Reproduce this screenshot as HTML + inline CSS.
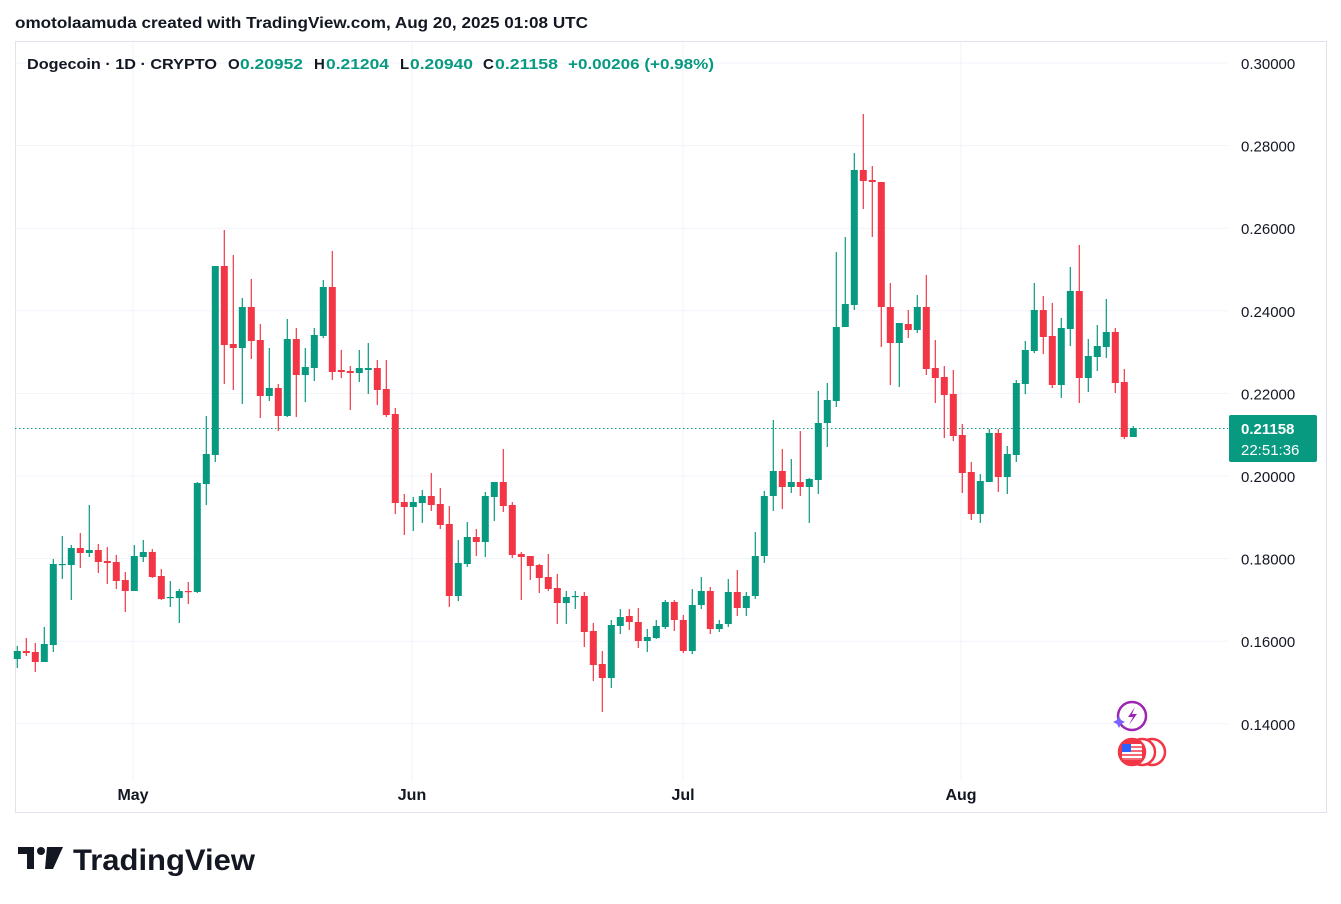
<!DOCTYPE html>
<html><head><meta charset="utf-8"><style>
html,body{margin:0;padding:0;background:#fff;width:1341px;height:904px;overflow:hidden;font-family:"Liberation Sans",sans-serif}
</style></head><body>
<svg id="s" width="1341" height="904" xmlns="http://www.w3.org/2000/svg" style="position:absolute;left:0;top:0">
<text x="15" y="28" font-size="16" font-weight="bold" fill="#131722" textLength="573" lengthAdjust="spacingAndGlyphs">omotolaamuda created with TradingView.com, Aug 20, 2025 01:08 UTC</text>
<rect x="15.5" y="41.5" width="1311" height="771" fill="none" stroke="#e0e3eb"/>
<g id="grid" stroke="#f0f3fa" stroke-width="1"></g>
<line x1="15" y1="428.5" x2="1228" y2="428.5" stroke="#089981" stroke-dasharray="1.5,2.5"/>
<g id="c"></g>
<g font-size="15" fill="#131722" id="pl"></g>
<g font-size="15" font-weight="bold">
<text x="27" y="69" fill="#131722" textLength="190" lengthAdjust="spacingAndGlyphs">Dogecoin · 1D · CRYPTO</text>
<text x="228" y="69" fill="#131722">O</text><text x="240" y="69" fill="#089981" textLength="63" lengthAdjust="spacingAndGlyphs">0.20952</text>
<text x="314" y="69" fill="#131722">H</text><text x="326" y="69" fill="#089981" textLength="63" lengthAdjust="spacingAndGlyphs">0.21204</text>
<text x="400" y="69" fill="#131722">L</text><text x="410" y="69" fill="#089981" textLength="63" lengthAdjust="spacingAndGlyphs">0.20940</text>
<text x="483" y="69" fill="#131722">C</text><text x="495" y="69" fill="#089981" textLength="63" lengthAdjust="spacingAndGlyphs">0.21158</text>
<text x="568" y="69" fill="#089981" textLength="146" lengthAdjust="spacingAndGlyphs">+0.00206 (+0.98%)</text>
</g>
<rect x="1229" y="415" width="88" height="47" rx="2" fill="#089981"/>
<text x="1241" y="434" font-size="15" fill="#fff" font-weight="bold">0.21158</text>
<text x="1241" y="455" font-size="15" fill="#fff">22:51:36</text>
<g font-size="16" font-weight="bold" fill="#131722" text-anchor="middle"><text x="133" y="800">May</text><text x="412" y="800">Jun</text><text x="683" y="800">Jul</text><text x="961" y="800">Aug</text></g>
<circle cx="1132" cy="716" r="14" fill="#fff" stroke="#9c27b0" stroke-width="2.5"/>
<path d="M1135 707 L1128 717 L1133 717 L1129 725 L1137 714 L1132 714 Z" fill="#9c27b0"/>
<path d="M1117 720 l2 -4 l2 4 l4 2 l-4 2 l-2 4 l-2 -4 l-4 -2z" fill="#7b61ff"/>
<circle cx="1152" cy="752" r="13" fill="#fff" stroke="#f23645" stroke-width="2.5"/>
<circle cx="1142" cy="752" r="13" fill="#fff" stroke="#f23645" stroke-width="2.5"/>
<circle cx="1132" cy="752" r="13" fill="#f23645" stroke="#f23645" stroke-width="2.5"/>
<rect x="1122" y="744" width="20" height="16" rx="2" fill="#fff"/>
<rect x="1122" y="744" width="9" height="8" fill="#2962ff"/>
<g stroke="#f23645" stroke-width="1.5"><line x1="1131" y1="747" x2="1142" y2="747"/><line x1="1131" y1="751" x2="1142" y2="751"/><line x1="1122" y1="755" x2="1142" y2="755"/><line x1="1122" y1="759" x2="1142" y2="759"/></g>
<path d="M18 847 h16 v22 h-7 v-15 h-9z" fill="#131722"/>
<circle cx="41" cy="851" r="4" fill="#131722"/>
<path d="M47 847 h16 l-10 22 h-8 z" fill="#131722"/>
<text x="73" y="870" font-size="30" font-weight="bold" fill="#131722" textLength="182" lengthAdjust="spacingAndGlyphs">TradingView</text>
</svg>
<script>
const d=[
['g',651,659,646,668],['r',651,653,638,656],['r',652,662,643,672],['g',644,662,627,662],['g',564,645,559,652],
['g',564,565,536,579],['g',548,565,545,600],['r',548,553,533,568],['g',550,553,505,557],['r',550,562,544,573],
['r',561,563,547,584],['r',562,581,555,589],['r',580,591,572,612],['g',556,591,545,591],['g',552,557,540,562],
['r',552,577,549,578],['r',576,599,569,600],['g',597,598,581,607],['g',591,598,589,623],['r',591,592,582,604],
['g',483,592,482,593],['g',454,484,416,505],['g',266,455,266,462],['r',266,345,230,384],['r',344,348,255,390],
['g',307,348,298,404],['r',307,341,279,359],['r',340,396,324,418],['g',388,396,348,401],['r',388,416,384,431],
['g',339,416,319,417],['r',339,375,328,417],['g',367,375,348,402],['g',335,368,328,381],['g',287,336,280,338],
['r',287,372,251,380],['r',370,372,350,378],['r',371,373,366,410],['g',368,373,350,382],['g',368,370,343,394],
['r',368,390,360,405],['r',389,415,360,417],['r',414,503,408,514],['r',502,507,494,535],['g',502,507,497,531],
['g',496,503,490,523],['r',496,505,473,511],['r',504,525,488,529],['r',524,596,506,607],['g',563,596,540,601],
['g',537,564,522,567],['r',537,542,529,556],['g',496,542,492,557],['g',482,497,482,521],['r',482,506,449,512],
['r',505,555,502,558],['r',554,557,552,600],['r',556,566,556,580],['r',565,578,564,593],['r',577,589,554,591],
['r',588,603,574,624],['g',597,603,591,624],['g',596,597,591,609],['r',596,632,592,647],['r',631,665,623,681],
['r',664,678,651,712],['g',625,678,620,688],['g',617,626,609,634],['r',616,622,609,630],['r',622,641,608,648],
['g',637,641,629,652],['g',626,638,620,639],['g',602,627,600,629],['r',602,620,600,631],['r',620,651,615,653],
['g',605,651,589,654],['g',591,605,577,609],['r',591,629,587,634],['g',624,629,620,632],['g',592,624,579,627],
['r',592,608,570,616],['g',596,608,592,616],['g',556,596,532,599],['g',496,556,491,563],['g',471,496,420,511],
['r',471,487,449,509],['g',482,487,459,493],['r',482,487,431,496],['g',479,487,478,523],['g',423,480,391,494],
['g',400,423,383,447],['g',327,401,252,407],['g',304,327,237,327],['g',170,305,153,310],['r',170,181,114,209],
['r',180,182,166,237],['r',182,307,182,347],['r',307,343,283,385],['g',323,343,323,387],['r',324,330,310,338],
['g',307,330,295,333],['r',307,369,275,375],['r',368,378,340,403],['r',377,395,366,438],['r',394,436,370,441],
['r',435,473,424,493],['r',472,514,462,520],['g',481,514,474,523],['g',433,482,429,482],['r',433,477,429,492],
['g',454,477,446,494],['g',383,455,380,462],['g',350,384,341,394],['g',310,351,283,353],['r',310,337,296,354],
['r',336,385,303,388],['g',328,385,318,398],['g',291,329,267,346],['r',291,378,245,403],['g',356,378,339,392],
['g',346,357,325,371],['g',332,347,299,358],['r',332,383,328,393],['r',382,437,369,439],['g',428,437,426,437]];
let h='';
d.forEach((c,i)=>{const x=17.3+i*9,col=c[0]=='g'?'#089981':'#f23645';
h+=`<line x1="${x}" x2="${x}" y1="${c[3]}" y2="${c[4]}" stroke="${col}" stroke-width="1.2"/>`;
h+=`<rect x="${x-3.5}" y="${c[1]}" width="7" height="${Math.max(1.2,c[2]-c[1])}" fill="${col}"/>`;});
document.getElementById('c').innerHTML=h;
let g='',p='';
for(let k=0;k<9;k++){const y=63+k*82.6,v=(0.30-k*0.02).toFixed(5);
g+=`<line x1="15" x2="1228" y1="${y}" y2="${y}"/>`;p+=`<text x="1241" y="${y+6}">${v}</text>`;}
[133,412,683,961].forEach(x=>g+=`<line x1="${x}" x2="${x}" y1="42" y2="780"/>`);
document.getElementById('grid').innerHTML=g;document.getElementById('pl').innerHTML=p;
</script>
</body></html>
